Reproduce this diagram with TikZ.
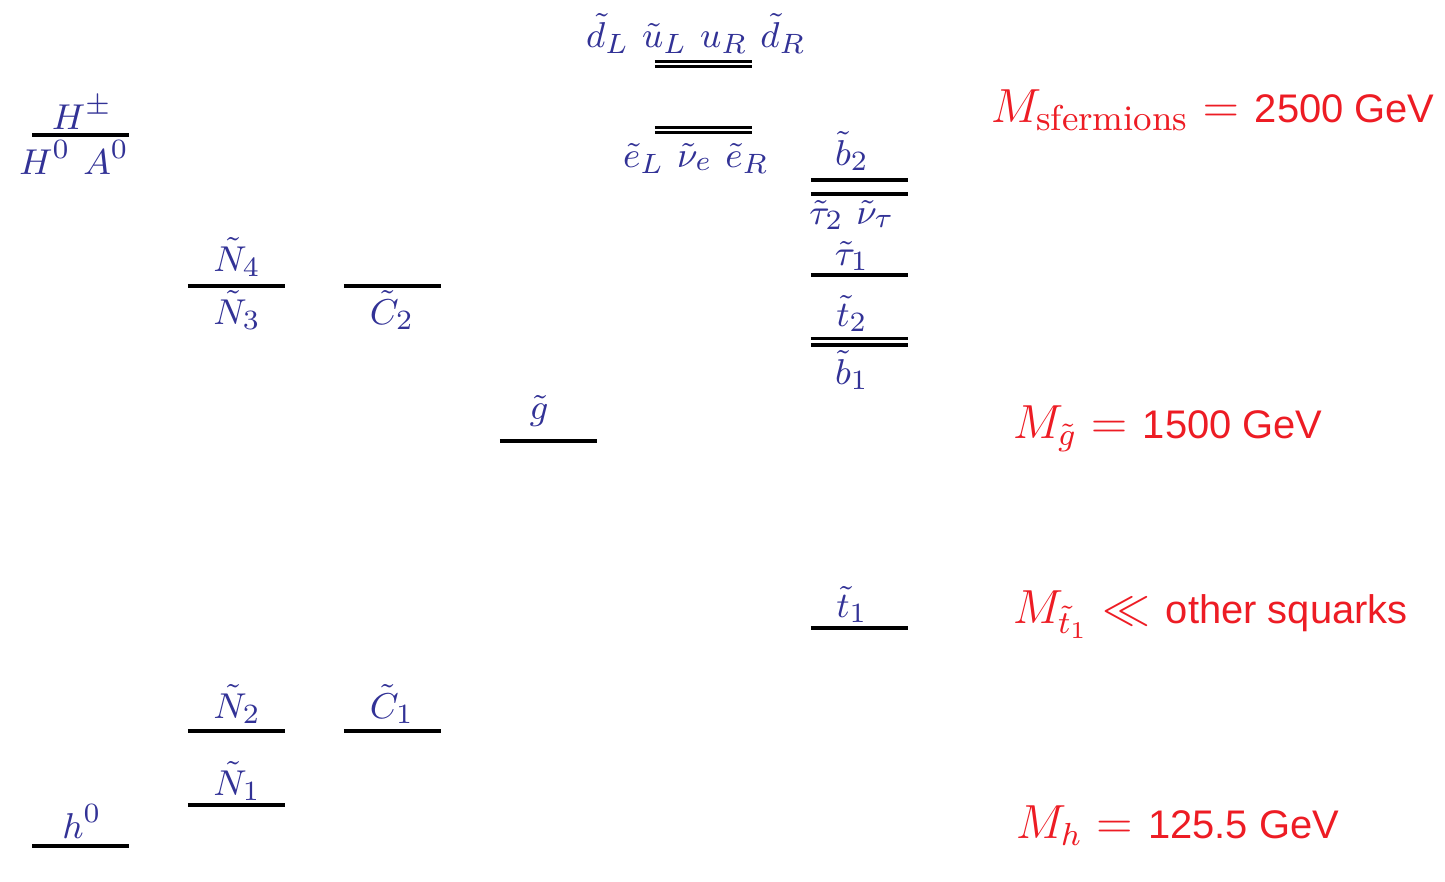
\documentclass[tikz,border=0pt]{standalone}
\usepackage{fontspec}
\setsansfont{Liberation Sans}
\usepackage{amsmath}
\usepackage{amssymb}
\usepackage{tikz}

\definecolor{levelblue}{RGB}{50,50,150}
\definecolor{massred}{RGB}{237,28,36}

\tikzset{
  level/.style={thick, black},
  lbl/.style={anchor=base, inner sep=0pt, text=levelblue, font=\fontsize{9.4}{11}\selectfont},
  mass/.style={anchor=base west, inner sep=0pt, text=massred, font=\large}
}

\begin{document}
\begin{tikzpicture}[x=0.0088cm, y=-0.0088cm]

\useasboundingbox (0,0) rectangle (1445,882);

% Higgs
\coordinate (Hpa) at (32,135);
\coordinate (Hpb) at (129,135);
\draw[level](Hpa)--(Hpb);
\node[lbl] (Hp) at (82,129){$H^\pm$};
\node[lbl] (HA) at (74,174){$H^0\ A^0$};

\coordinate (ha) at (32,846);
\coordinate (hb) at (129,846);
\draw[level](ha)--(hb);
\node[lbl] (h) at (82,838){$h^0$};


% neutralinos
\coordinate (N34a) at (188,286);
\coordinate (N34b) at (285,286);
\draw[level](N34a)--(N34b);
\node[lbl] (N4) at (237,271){$\tilde N_4$};
\node[lbl] (N3) at (237,324){$\tilde N_3$};

\coordinate (N2a) at (188,731);
\coordinate (N2b) at (285,731);
\draw[level](N2a)--(N2b);
\node[lbl] (N2) at (237,718){$\tilde N_2$};

\coordinate (N1a) at (188,805);
\coordinate (N1b) at (285,805);
\draw[level](N1a)--(N1b);
\node[lbl] (N1) at (237,795){$\tilde N_1$};


% charginos
\coordinate (C2a) at (344,286);
\coordinate (C2b) at (441,286);
\draw[level](C2a)--(C2b);
\node[lbl] (C2) at (392,324){$\tilde C_2$};

\coordinate (C1a) at (344,731);
\coordinate (C1b) at (441,731);
\draw[level](C1a)--(C1b);
\node[lbl] (C1) at (392,718){$\tilde C_1$};


% gluino
\coordinate (ga) at (500,441);
\coordinate (gb) at (597,441);
\draw[level](ga)--(gb);
\node[lbl] (g) at (539,419){$\tilde g$};


% first two generations
\coordinate (qa) at (655,61.5);
\coordinate (qb) at (752,61.5);
\coordinate (qc) at (655,66.5);
\coordinate (qd) at (752,66.5);
\draw[level](qa)--(qb);
\draw[level](qc)--(qd);
\node[lbl] (q) at (696,47){$\tilde d_L\ \tilde u_L\ u_R\ \tilde d_R$};

\coordinate (la) at (655,127.5);
\coordinate (lb) at (752,127.5);
\coordinate (lc) at (655,132.5);
\coordinate (ld) at (752,132.5);
\draw[level](la)--(lb);
\draw[level](lc)--(ld);
\node[lbl] (l) at (696,167){$\tilde e_L\ \tilde\nu_e\ \tilde e_R$};


% third generation
\coordinate (b2a) at (811,180);
\coordinate (b2b) at (908,180);
\draw[level](b2a)--(b2b);
\node[lbl] (b2) at (852,165){$\tilde b_2$};

\coordinate (ta2a) at (811,194);
\coordinate (ta2b) at (908,194);
\draw[level](ta2a)--(ta2b);
\node[lbl] (ta2) at (852,224){$\tilde\tau_2\ \tilde\nu_\tau$};

\coordinate (ta1a) at (811,275);
\coordinate (ta1b) at (908,275);
\draw[level](ta1a)--(ta1b);
\node[lbl] (ta1) at (852,265){$\tilde\tau_1$};

\coordinate (t2a) at (811,338.5);
\coordinate (t2b) at (908,338.5);
\coordinate (b1a) at (811,345);
\coordinate (b1b) at (908,345);
\draw[level](t2a)--(t2b);
\draw[level](b1a)--(b1b);
\node[lbl] (t2) at (852,326){$\tilde t_2$};
\node[lbl] (b1) at (852,384){$\tilde b_1$};

\coordinate (t1a) at (811,628);
\coordinate (t1b) at (908,628);
\draw[level](t1a)--(t1b);
\node[lbl] (t1) at (852,617){$\tilde t_1$};


% masses
\node[mass] (Msf) at (990,122){$M_{\mbox{\small sfermions}} = $ {\normalsize\sffamily 2500 GeV}};
\node[mass] (Mg) at (1012,438){$M_{\tilde g} = $ {\normalsize\sffamily 1500 GeV}};
\node[mass] (Mt) at (1012,623){$M_{\tilde t_1} \ll $ {\normalsize\sffamily other squarks}};
\node[mass] (Mh) at (1015,838){$M_h = $ {\normalsize\sffamily 125.5 GeV}};

\end{tikzpicture}
\end{document}
